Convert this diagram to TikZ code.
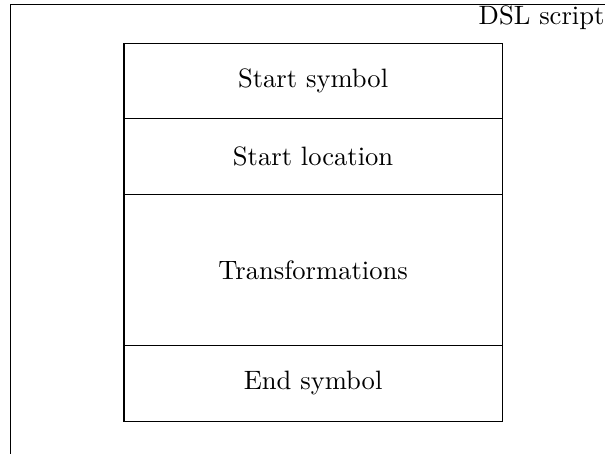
\documentclass[tikz,border=0pt]{standalone}
\begin{document}
\begin{tikzpicture}[
  section/.style={draw, minimum width=5cm, inner sep=0pt, outer sep=0pt},
  lbl/.style={inner sep=0pt}
]
\useasboundingbox (0,0) rectangle (8,-6);
\clip (0,0) rectangle (8,-6);
% outer script frame, running off the page on the right and bottom
\draw (0.139,-0.062) rectangle (9,-7);
\node[lbl, anchor=base west] (title) at (6.323,-0.324) {DSL script};
% stacked sections of the script
\node[section, minimum height=1cm, anchor=north west] (s1) at (1.64,-0.569) {Start symbol};
\node[section, minimum height=1cm, anchor=north] (s2) at (s1.south) {Start location};
\node[section, minimum height=2cm, anchor=north] (s3) at (s2.south) {Transformations};
\node[section, minimum height=1cm, anchor=north] (s4) at (s3.south) {End symbol};
\end{tikzpicture}
\end{document}
